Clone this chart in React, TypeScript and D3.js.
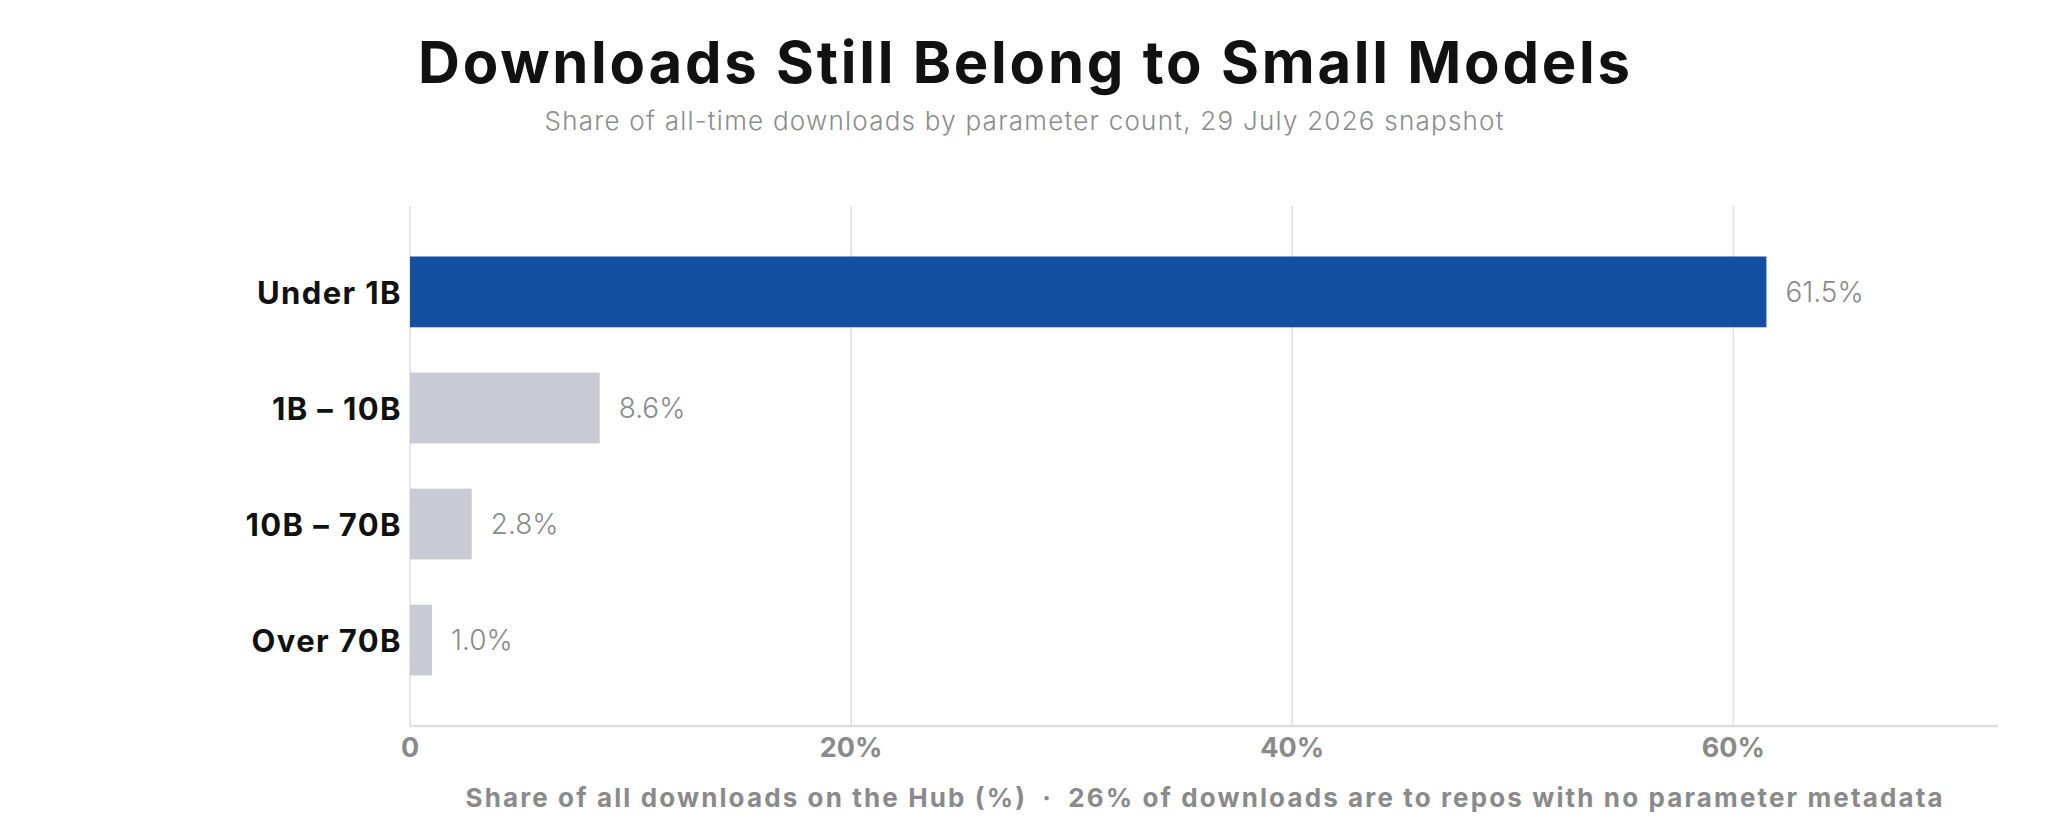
import React, { useEffect, useRef } from "react";
import * as d3 from "d3";

const categories = ["Under 1B", "1B – 10B", "10B – 70B", "Over 70B"];
const shares = [61.5, 8.6, 2.8, 1.0];
const xTicks = [0, 20, 40, 60];
const highlight = "Under 1B";

const title = "Downloads Still Belong to Small Models";
const subtitle = "Share of all-time downloads by parameter count, 29 July 2026 snapshot";
const xTitle = "Share of all downloads on the Hub (%)\u2002·\u200226% of downloads are to repos with no parameter metadata";

const W = 2048;
const H = 839;
const FONT = "Inter, 'Open Sans', 'DejaVu Sans', sans-serif";

const App: React.FC = () => {
  const svgRef = useRef<SVGSVGElement | null>(null);

  useEffect(() => {
    if (!svgRef.current) return;
    const svg = d3.select(svgRef.current);
    svg.selectAll("*").remove();

    const margin = { top: 206, right: 50, bottom: 113, left: 410 };
    const rows = categories.map((name, i) => ({ name, value: shares[i] }));

    const x = d3.scaleLinear()
      .domain([0, 72])
      .range([margin.left, W - margin.right]);

    const y = d3.scaleBand<string>()
      .domain(categories)
      .range([margin.top, H - margin.bottom])
      .paddingInner(0.39)
      .paddingOuter(0.435);

    const gray = "#8a8a8a";

    // titles (montserrat is wider than what we have, so stretch the spacing)
    svg.append("text")
      .attr("x", W / 2)
      .attr("y", 83)
      .attr("text-anchor", "middle")
      .attr("font-family", FONT)
      .attr("font-weight", 700)
      .attr("font-size", 58)
      .attr("fill", "#111")
      .attr("textLength", 1212)
      .attr("lengthAdjust", "spacing")
      .text(title);

    svg.append("text")
      .attr("x", W / 2)
      .attr("y", 130)
      .attr("text-anchor", "middle")
      .attr("font-family", FONT)
      .attr("font-weight", 300)
      .attr("font-size", 26)
      .attr("fill", "#8c8c8c")
      .attr("textLength", 959)
      .attr("lengthAdjust", "spacing")
      .text(subtitle);

    // grid
    svg.append("g")
      .selectAll("line")
      .data(xTicks)
      .join("line")
      .attr("x1", d => x(d))
      .attr("x2", d => x(d))
      .attr("y1", margin.top)
      .attr("y2", H - margin.bottom)
      .attr("stroke", "#e1e1e1")
      .attr("stroke-width", 1.6);

    // bars
    svg.append("g")
      .selectAll("rect")
      .data(rows)
      .join("rect")
      .attr("x", x(0))
      .attr("y", d => y(d.name)!)
      .attr("width", d => x(d.value) - x(0))
      .attr("height", y.bandwidth())
      .attr("fill", d => d.name === highlight ? "#13509f" : "#c8cbd3");

    // value labels
    svg.append("g")
      .attr("font-family", FONT)
      .attr("font-weight", 300)
      .attr("font-size", 28)
      .attr("fill", gray)
      .selectAll("text")
      .data(rows)
      .join("text")
      .attr("x", d => x(d.value) + 19)
      .attr("y", d => y(d.name)! + y.bandwidth() / 2)
      .attr("dy", "0.35em")
      .text(d => d.value.toFixed(1) + "%");

    // category labels
    svg.append("g")
      .attr("font-family", FONT)
      .attr("font-weight", 700)
      .attr("font-size", 31)
      .attr("letter-spacing", 1.4)
      .attr("fill", "#111")
      .attr("text-anchor", "end")
      .selectAll("text")
      .data(rows)
      .join("text")
      .attr("x", margin.left - 8)
      .attr("y", d => y(d.name)! + y.bandwidth() / 2)
      .attr("dy", "0.38em")
      .text(d => d.name);

    // bottom axis line
    svg.append("line")
      .attr("x1", x(0))
      .attr("x2", W - margin.right)
      .attr("y1", H - margin.bottom)
      .attr("y2", H - margin.bottom)
      .attr("stroke", "#dedede")
      .attr("stroke-width", 2.5);

    // x tick labels
    svg.append("g")
      .attr("font-family", FONT)
      .attr("font-weight", 700)
      .attr("font-size", 27)
      .attr("fill", gray)
      .attr("text-anchor", "middle")
      .selectAll("text")
      .data(xTicks)
      .join("text")
      .attr("x", d => x(d))
      .attr("y", 757)
      .text(d => d === 0 ? "0" : `${d}%`);

    svg.append("text")
      .attr("x", (x(0) + W - margin.right) / 2)
      .attr("y", 807)
      .attr("text-anchor", "middle")
      .attr("font-family", FONT)
      .attr("font-weight", 700)
      .attr("font-size", 26)
      .attr("fill", gray)
      .attr("textLength", 1477)
      .attr("lengthAdjust", "spacing")
      .text(xTitle);
  }, []);

  return (
    <svg
      ref={svgRef}
      width={W}
      height={H}
      style={{ position: "absolute", left: 0, top: 0, display: "block", background: "#fff" }}
    />
  );
};

export default App;
